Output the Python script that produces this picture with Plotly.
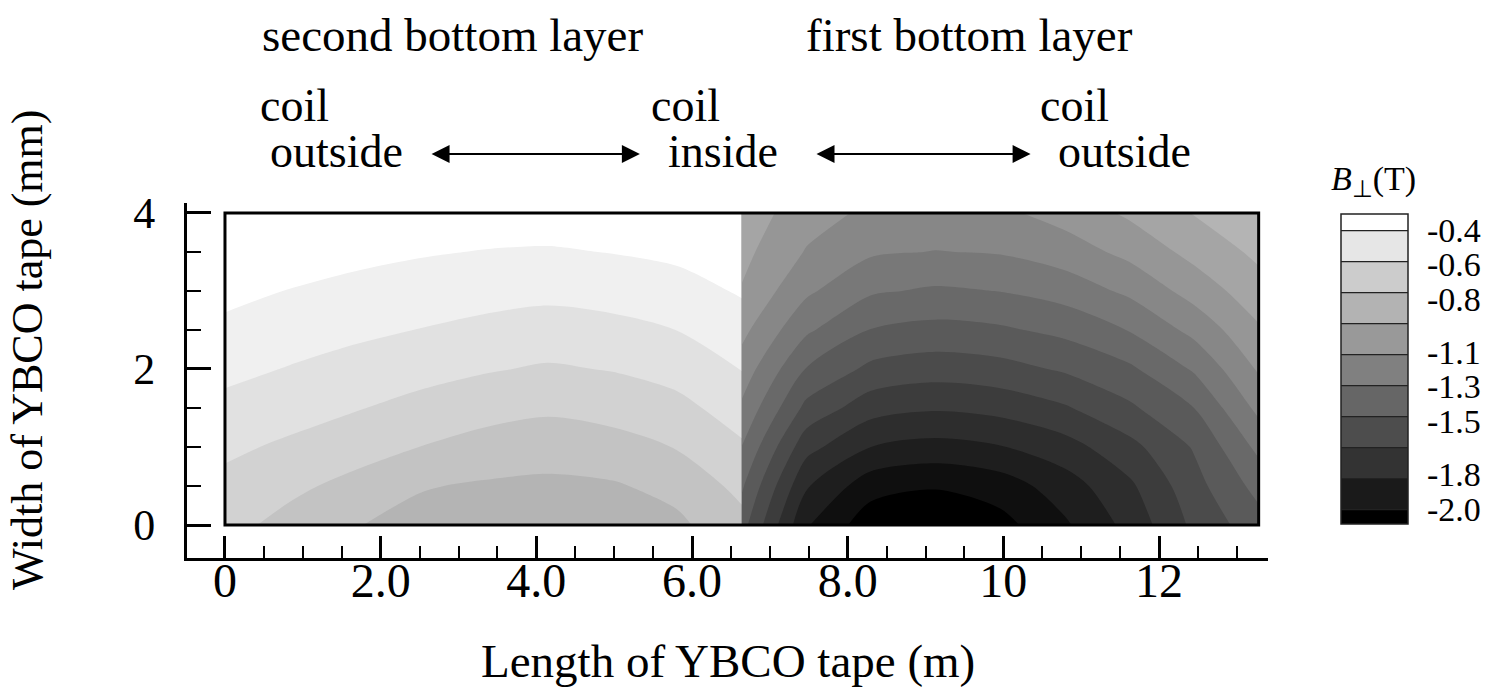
import plotly.graph_objects as go

# ---------------- data ----------------
# tape length positions (m) of the grid columns, second (left) and first (right) bottom layer
length_second = [0.0, 0.83, 1.66, 2.49, 3.32, 4.15, 4.98, 5.81, 6.64]
length_first = [6.64, 7.47, 8.30, 9.13, 9.96, 10.79, 11.62, 12.45, 13.28]
# tape width positions (mm) of the grid rows
width_pos = [0.0, 0.5, 1.0, 1.5, 2.0, 2.5, 3.0, 3.5, 4.0]

# perpendicular field B (T), one row per width position
b_second = [
    [-0.670, -0.730, -0.795, -0.830, -0.855, -0.860, -0.850, -0.820, -0.730],
    [-0.627, -0.679, -0.727, -0.793, -0.811, -0.819, -0.810, -0.770, -0.672],
    [-0.580, -0.617, -0.659, -0.700, -0.738, -0.759, -0.738, -0.695, -0.613],
    [-0.527, -0.560, -0.593, -0.630, -0.661, -0.683, -0.663, -0.628, -0.555],
    [-0.474, -0.505, -0.535, -0.564, -0.591, -0.611, -0.595, -0.563, -0.497],
    [-0.423, -0.454, -0.479, -0.502, -0.525, -0.542, -0.528, -0.499, -0.444],
    [-0.372, -0.403, -0.426, -0.447, -0.463, -0.475, -0.462, -0.439, -0.390],
    [-0.321, -0.352, -0.374, -0.391, -0.404, -0.410, -0.397, -0.378, -0.337],
    [-0.270, -0.301, -0.321, -0.336, -0.344, -0.345, -0.332, -0.318, -0.284],
]
b_first = [
    [-1.460, -1.890, -2.060, -2.070, -2.035, -1.915, -1.769, -1.577, -1.440],
    [-1.386, -1.790, -1.961, -1.993, -1.952, -1.848, -1.719, -1.536, -1.366],
    [-1.302, -1.665, -1.800, -1.833, -1.806, -1.741, -1.631, -1.491, -1.274],
    [-1.217, -1.528, -1.659, -1.689, -1.667, -1.611, -1.518, -1.400, -1.174],
    [-1.143, -1.405, -1.525, -1.554, -1.535, -1.487, -1.418, -1.288, -1.088],
    [-1.073, -1.283, -1.404, -1.431, -1.415, -1.374, -1.295, -1.171, -1.013],
    [-1.007, -1.182, -1.287, -1.314, -1.298, -1.257, -1.180, -1.060, -0.940],
    [-0.972, -1.107, -1.187, -1.203, -1.193, -1.150, -1.072, -0.969, -0.878],
    [-0.940, -1.058, -1.120, -1.135, -1.120, -1.060, -0.983, -0.895, -0.830],
]

tape_length = 13.28
tape_width = 4.0

x_tickvals = [0, 2, 4, 6, 8, 10, 12]
x_ticktext = ["0", "2.0", "4.0", "6.0", "8.0", "10", "12"]
y_tickvals = [0, 2, 4]
y_ticktext = ["0", "2", "4"]

cbar_tickvals = [-0.4, -0.6, -0.8, -1.1, -1.3, -1.5, -1.8, -2.0]
cbar_ticktext = ["-0.4", "-0.6", "-0.8", "-1.1", "-1.3", "-1.5", "-1.8", "-2.0"]

# ---------------- styling ----------------
FONT = "Liberation Serif"
grey = [[0.0, "rgb(0,0,0)"], [1.0, "rgb(255,255,255)"]]
fine_levels = dict(start=-2.0, end=-0.4, size=0.1, coloring="fill", showlines=False)
legend_levels = dict(start=-2.0, end=-0.4, size=1.6 / 9, coloring="fill", showlines=True)

fig = go.Figure()

for xs, zs in ((length_second, b_second), (length_first, b_first)):
    fig.add_trace(go.Contour(
        x=xs, y=width_pos, z=zs,
        autocontour=False, contours=fine_levels,
        colorscale=grey, showscale=False,
        line=dict(width=0, smoothing=0.85),
        hoverinfo="skip",
    ))

# legend carrier (coarser levels, as in the original legend); invisible in the plot
fig.add_trace(go.Contour(
    x=length_first, y=width_pos, z=b_first,
    autocontour=False, contours=legend_levels,
    colorscale=grey, opacity=0, hoverinfo="skip",
    line=dict(color="#222222", width=1.2),
    showscale=True,
    colorbar=dict(
        x=1.0675, xanchor="left", xpad=0,
        y=0.532, yanchor="middle", ypad=0,
        len=310, lenmode="pixels",
        thickness=67, thicknessmode="pixels",
        outlinewidth=1.5, outlinecolor="#222222",
        tickvals=cbar_tickvals, ticktext=cbar_ticktext,
        ticks="outside", ticklen=12, tickcolor="rgba(0,0,0,0)",
        tickfont=dict(family=FONT, size=34, color="black"),
    ),
))

# frame around the data region
fig.add_shape(type="rect", xref="x", yref="y", x0=0, x1=tape_length, y0=0, y1=tape_width,
              line=dict(color="black", width=3), layer="above")

annotations = []
def txt(text, x, y, size=46, **kw):
    annotations.append(dict(text=text, x=x, y=y, xref="paper", yref="paper",
                            showarrow=False, xanchor="center", yanchor="middle",
                            font=dict(family=FONT, size=size, color="black"), **kw))

txt("second bottom layer", 0.246, 1.472, size=47)
txt("first bottom layer", 0.724, 1.472, size=47)
txt("coil", 0.099, 1.274)
txt("outside", 0.138, 1.144)
txt("coil", 0.461, 1.274)
txt("inside", 0.496, 1.144)
txt("coil", 0.821, 1.274)
txt("outside", 0.867, 1.144)
txt("<i>B</i><sub>⊥</sub>(T)", 1.0975, 1.062, size=34)
txt("Width of YBCO tape (mm)", -0.147, 0.586, size=44, textangle=-90)
txt("Length of YBCO tape (m)", 0.5, -0.289, size=47)

for x_tail, x_head in ((2.635, 5.33), (7.58, 10.35)):
    annotations.append(dict(text="", x=x_head, y=1.138, xref="x", yref="paper",
                            ax=x_tail, ay=0, axref="x", ayref="pixel",
                            showarrow=True, arrowside="end+start", arrowhead=2,
                            arrowsize=1.8, arrowwidth=2, arrowcolor="black",
                            standoff=0, startstandoff=0))

fig.update_layout(
    width=1496, height=687,
    margin=dict(l=187, r=228, t=203, b=129),
    paper_bgcolor="white", plot_bgcolor="white",
    showlegend=False,
    annotations=annotations,
    font=dict(family=FONT, color="black"),
    xaxis=dict(
        range=[-0.488, 13.4], showgrid=False, zeroline=False,
        showline=True, linewidth=3, linecolor="black",
        tickvals=x_tickvals, ticktext=x_ticktext,
        ticks="inside", ticklen=22, tickwidth=3, tickcolor="black",
        minor=dict(dtick=0.5, tick0=0, ticks="inside", ticklen=12, tickwidth=1.5, tickcolor="black", showgrid=False),
        tickfont=dict(family=FONT, size=48, color="black"),
        ticklabelstandoff=-22,
    ),
    yaxis=dict(
        range=[-0.423, 4.128], showgrid=False, zeroline=False,
        showline=True, linewidth=3, linecolor="black",
        tickvals=y_tickvals, ticktext=y_ticktext,
        ticks="inside", ticklen=24, tickwidth=3, tickcolor="black",
        minor=dict(dtick=0.5, tick0=0, ticks="inside", ticklen=14, tickwidth=1.5, tickcolor="black", showgrid=False),
        tickfont=dict(family=FONT, size=44, color="black"),
        ticklabelstandoff=20,
    ),
)

fig.write_html("out.html")
